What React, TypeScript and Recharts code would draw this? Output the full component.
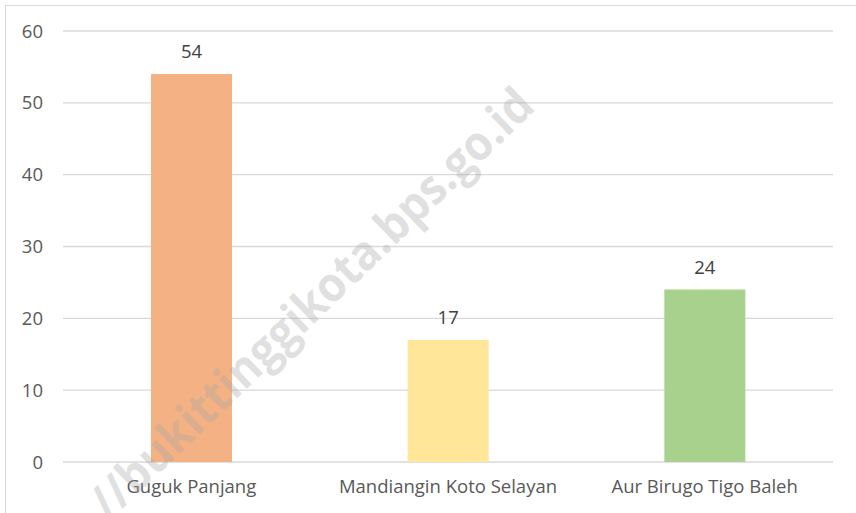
import React from "react";
import { BarChart, Bar, XAxis, YAxis, CartesianGrid, LabelList, Cell } from "recharts";

const categories = ["Guguk Panjang", "Mandiangin Koto Selayan", "Aur Birugo Tigo Baleh"];
const values = [54, 17, 24];
const barColors = ["#F4B183", "#FFE699", "#A9D18E"];
const yTicks = [0, 10, 20, 30, 40, 50, 60];
const watermark = "//bukittinggikota.bps.go.id";

const data = categories.map((name, i) => ({ name, value: values[i] }));

const FONT = "'Open Sans', 'Noto Sans', sans-serif";

export default function App() {
  return (
    <div style={{ position: "absolute", left: 0, top: 0, width: 856, height: 513, overflow: "hidden", background: "#fff" }}>
      <div
        style={{
          position: "absolute",
          left: 5,
          top: 5,
          width: 900,
          height: 600,
          border: "1px solid #d9d9d9",
          boxSizing: "border-box",
        }}
      />
      <div style={{ position: "absolute", left: 0, top: 0 }}>
        <BarChart
          width={856}
          height={513}
          data={data}
          margin={{ top: 31, right: 23, left: 23, bottom: 21 }}
        >
          <CartesianGrid vertical={false} stroke="#d9d9d9" strokeWidth={1.3} />
          <XAxis
            dataKey="name"
            axisLine={false}
            tickLine={false}
            height={30}
            tickSize={0}
            tickMargin={18}
            tick={{ fill: "#595959", fontSize: 18.5, fontFamily: FONT }}
          />
          <YAxis
            width={40}
            domain={[0, 60]}
            ticks={yTicks}
            axisLine={false}
            tickLine={false}
            tickSize={0}
            tickMargin={20}
            tick={{ fill: "#595959", fontSize: 18.5, fontFamily: FONT }}
          />
          <Bar dataKey="value" barSize={81} isAnimationActive={false}>
            {data.map((d, i) => (
              <Cell key={d.name} fill={barColors[i]} />
            ))}
            <LabelList
              dataKey="value"
              position="top"
              offset={16}
              fill="#404040"
              fontSize={18.5}
              fontFamily={FONT}
            />
          </Bar>
        </BarChart>
      </div>
      <svg
        width={856}
        height={513}
        style={{ position: "absolute", left: 0, top: 0, pointerEvents: "none" }}
      >
        <text
          x={310}
          y={302}
          transform="rotate(-44 310 302)"
          textAnchor="middle"
          dominantBaseline="central"
          fontFamily={FONT}
          fontWeight={700}
          fontSize={48}
          fill="#a6a6a6"
          fillOpacity={0.35}
          textLength={595}
          lengthAdjust="spacingAndGlyphs"
        >
          {watermark}
        </text>
      </svg>
    </div>
  );
}
